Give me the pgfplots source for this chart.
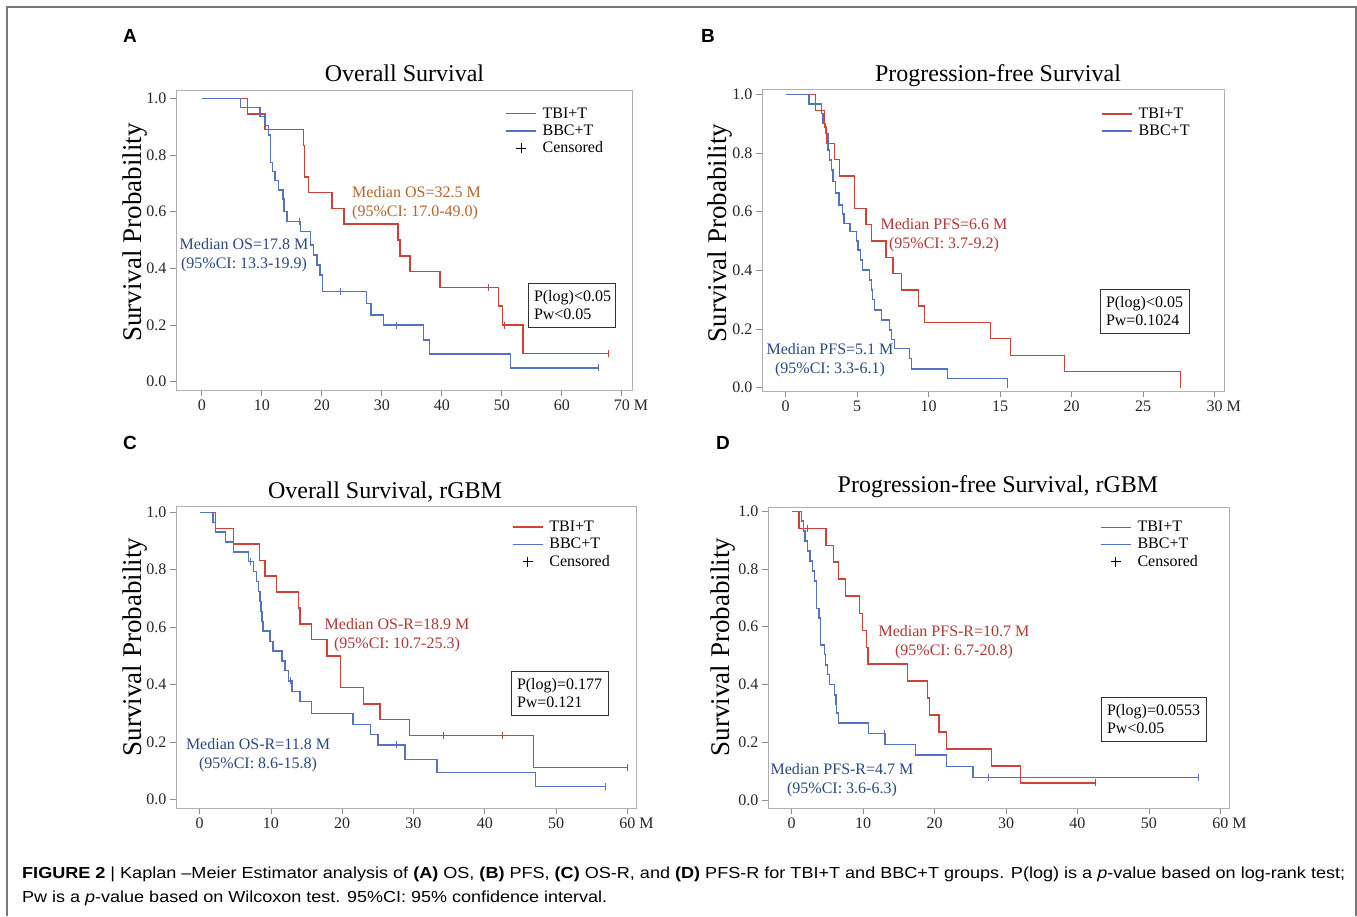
\documentclass[border=0pt]{standalone}
\usepackage{pgfplots}
\pgfplotsset{compat=1.18}
\usepackage{fontspec}
\setmainfont{Liberation Serif}
\newfontfamily\sansf{Liberation Sans}
\usepackage{graphicx}

\definecolor{tbired}{RGB}{208,66,56}
\definecolor{bbcblue}{RGB}{84,114,192}
\definecolor{annred}{RGB}{178,55,55}
\definecolor{annorange}{RGB}{184,100,42}
\definecolor{annblue}{RGB}{42,72,132}
\definecolor{axgray}{RGB}{175,175,175}
\definecolor{tickgray}{RGB}{140,140,140}
\definecolor{framegray}{RGB}{120,120,120}

\pgfplotsset{
  km/.style={
    scale only axis,
    axis line style={draw=axgray, line width=0.9pt},
    tick style={draw=tickgray, line width=0.7pt},
    tick align=outside,
    major tick length=6pt,
    xtick pos=bottom, ytick pos=left,
    ytick={0,0.2,0.4,0.6,0.8,1},
    yticklabels={0.0,0.2,0.4,0.6,0.8,1.0},
    ticklabel style={font=\fontsize{16}{16}\selectfont, text=black!85},
    legend cell align=left,
    legend style={draw=none, fill=none, font=\fontsize{16}{17}\selectfont, inner sep=0pt, row sep=1pt, column sep=4pt},
  },
  kmred/.style={const plot, tbired, line width=1.4pt, forget plot},
  kmblue/.style={const plot, bbcblue, line width=1.4pt, forget plot},
  cenred/.style={only marks, mark=|, mark size=3.5pt, tbired, mark options={line width=0.9pt}, forget plot},
  cenblue/.style={only marks, mark=|, mark size=3.5pt, bbcblue, mark options={line width=0.9pt}, forget plot},
}
\newcommand{\legA}{%
  \addlegendimage{legend image code/.code={\draw[tbired,line width=1.4pt] (0pt,0pt) -- (30pt,0pt);}}
  \addlegendentry{TBI+T}
  \addlegendimage{legend image code/.code={\draw[bbcblue,line width=1.4pt] (0pt,0pt) -- (30pt,0pt);}}
  \addlegendentry{BBC+T}}
\newcommand{\legC}{%
  \addlegendimage{legend image code/.code={\draw[black,line width=0.7pt] (15pt,-5pt) -- (15pt,5pt) (10pt,0pt) -- (20pt,0pt);}}
  \addlegendentry{Censored}}

\tikzset{
  ann/.style={font=\fontsize{16}{19}\selectfont, align=center, inner sep=0pt},
  pbox/.style={draw=black!80, line width=0.8pt, font=\fontsize{16}{18}\selectfont, align=left, inner xsep=6pt, inner ysep=0pt, minimum height=44pt, anchor=center},
  ttl/.style={font=\fontsize{24}{24}\selectfont, inner sep=0pt, anchor=base},
  ylab/.style={font=\fontsize{27}{27}\selectfont, rotate=90, inner sep=0pt, anchor=base},
  plet/.style={font=\sansf\bfseries\fontsize{19}{19}\selectfont, inner sep=0pt},
}

\begin{document}
\begin{tikzpicture}
\path[use as bounding box] (0,0) rectangle (1357pt,-916pt);
\fill[white] (0,0) rectangle (1357pt,-916pt);
\draw[framegray, line width=1.2pt] (7pt,-916pt) -- (7pt,-7pt) -- (1356pt,-7pt) -- (1356pt,-916pt);

% panel letters
\node[plet] at (130pt,-36pt) {A};
\node[plet] at (708pt,-36pt) {B};
\node[plet] at (130pt,-443pt) {C};
\node[plet] at (723pt,-443pt) {D};

% titles (baselines)
\node[ttl] at (404.5pt,-81pt) {Overall Survival};
\node[ttl] at (998pt,-81pt) {Progression-free Survival};
\node[ttl] at (385pt,-498pt) {Overall Survival, rGBM};
\node[ttl] at (998pt,-492pt) {Progression-free Survival, rGBM};

% y labels (baselines, rotated)
\node[ylab] at (141pt,-232.5pt) {Survival Probability};
\node[ylab] at (726pt,-233pt) {Survival Probability};
\node[ylab] at (141pt,-647pt) {Survival Probability};
\node[ylab] at (729pt,-647pt) {Survival Probability};

% ---------------- Panel A
\begin{axis}[km, at={(176pt,-390pt)}, anchor=south west, width=456pt, height=300pt,
  xmin=-4.3, xmax=71.7, ymin=-0.029, ymax=1.029,
  xtick={0,10,20,30,40,50,60,70}, xticklabels={0,10,20,30,40,50,60,{70\rlap{ M}}},
  legend style={at={(0.7215,0.948)}, anchor=north west}]
\addplot[kmred] coordinates {(0,1)(7.6,0.944)(10.5,0.889)(16.9,0.833)(17.1,0.722)(17.8,0.667)(21.7,0.611)(23.7,0.556)(32.7,0.5)(33.0,0.444)(34.7,0.389)(39.7,0.333)(49.4,0.267)(50.1,0.2)(53.5,0.1)(67.8,0.1)};
\addplot[cenred] coordinates {(47.8,0.333)(50.4,0.2)(67.8,0.1)};
\addplot[kmblue] coordinates {(0,1)(6.4,0.968)(9.7,0.935)(10.5,0.903)(11.1,0.871)(11.4,0.774)(11.8,0.742)(12.2,0.71)(12.8,0.677)(13.5,0.645)(13.7,0.6)(14.2,0.565)(16.4,0.53)(18.1,0.482)(18.6,0.447)(19.2,0.412)(19.7,0.377)(20.1,0.318)(27.4,0.276)(28.2,0.235)(30.3,0.2)(36.9,0.147)(37.9,0.098)(51.4,0.049)(66.1,0.049)};
\addplot[cenblue] coordinates {(16.3,0.565)(23.1,0.318)(32.4,0.2)(66.1,0.049)};
\legA
\legC
\end{axis}

% ---------------- Panel B
\begin{axis}[km, at={(762pt,-391pt)}, anchor=south west, width=462pt, height=302pt,
  xmin=-1.66, xmax=30.65, ymin=-0.011, ymax=1.018,
  xtick={0,5,10,15,20,25,30}, xticklabels={0,5,10,15,20,25,{30\rlap{ M}}},
  legend style={at={(0.734,0.945)}, anchor=north west}]
\addplot[kmred] coordinates {(0,1)(2.1,0.944)(2.7,0.889)(2.85,0.833)(3.4,0.778)(3.75,0.722)(4.8,0.611)(5.6,0.556)(6.0,0.5)(7.0,0.444)(7.5,0.389)(8.1,0.333)(9.3,0.278)(9.7,0.222)(14.3,0.167)(15.7,0.111)(19.5,0.056)(27.6,0)};
\addplot[kmblue] coordinates {(0,1)(1.63,0.967)(2.49,0.935)(2.61,0.9)(2.8,0.867)(2.96,0.81)(3.08,0.776)(3.19,0.742)(3.31,0.702)(3.5,0.663)(3.73,0.623)(3.96,0.592)(4.08,0.56)(4.48,0.532)(4.94,0.5)(5.06,0.469)(5.22,0.435)(5.36,0.401)(5.87,0.367)(5.99,0.333)(6.06,0.301)(6.22,0.265)(6.69,0.231)(7.27,0.197)(7.39,0.165)(7.62,0.134)(8.67,0.1)(8.79,0.064)(11.3,0.032)(15.5,0)};
\legA
\end{axis}

% ---------------- Panel C
\begin{axis}[km, at={(176pt,-808pt)}, anchor=south west, width=460pt, height=302pt,
  xmin=-3.3, xmax=61.2, ymin=-0.03, ymax=1.022,
  xtick={0,10,20,30,40,50,60}, xticklabels={0,10,20,30,40,50,{60\rlap{ M}}},
  legend style={at={(0.73,0.957)}, anchor=north west}]
\addplot[kmred] coordinates {(0,1)(2.2,0.944)(4.8,0.889)(8.4,0.833)(9.2,0.778)(10.75,0.722)(13.9,0.667)(14.1,0.611)(15.7,0.556)(17.9,0.5)(19.8,0.389)(23.0,0.333)(25.3,0.278)(29.4,0.222)(46.8,0.111)(60.0,0.111)};
\addplot[cenred] coordinates {(34.2,0.222)(42.5,0.222)(60.0,0.111)};
\addplot[kmblue] coordinates {(0,1)(1.9,0.965)(2.2,0.931)(3.6,0.897)(4.8,0.862)(6.9,0.828)(7.6,0.793)(7.95,0.759)(8.3,0.724)(8.45,0.69)(8.6,0.655)(8.75,0.62)(8.9,0.586)(9.9,0.551)(10.3,0.517)(11.55,0.482)(12.0,0.448)(12.5,0.413)(12.96,0.376)(14.1,0.341)(15.7,0.3)(21.5,0.261)(24.0,0.226)(25.0,0.19)(28.8,0.139)(33.3,0.094)(47.1,0.044)(56.9,0.044)};
\addplot[cenblue] coordinates {(7.1,0.828)(12.8,0.413)(27.6,0.19)(56.9,0.044)};
\legA
\legC
\end{axis}

% ---------------- Panel D
\begin{axis}[km, at={(768pt,-808pt)}, anchor=south west, width=461pt, height=301pt,
  xmin=-3.3, xmax=61.2, ymin=-0.028, ymax=1.015,
  xtick={0,10,20,30,40,50,60}, xticklabels={0,10,20,30,40,50,{60\rlap{ M}}},
  legend style={at={(0.72,0.96)}, anchor=north west}]
\addplot[kmred] coordinates {(0,1)(1.05,0.941)(4.8,0.882)(5.9,0.824)(6.6,0.765)(7.5,0.706)(9.5,0.647)(9.9,0.588)(10.5,0.529)(10.7,0.471)(16.2,0.412)(19.0,0.353)(19.3,0.294)(20.6,0.235)(21.7,0.176)(28.0,0.118)(32.0,0.059)(42.5,0.059)};
\addplot[cenred] coordinates {(2.2,0.941)(42.5,0.059)};
\addplot[kmblue] coordinates {(0,1)(1.4,0.966)(1.65,0.932)(1.86,0.897)(2.24,0.862)(2.56,0.828)(2.9,0.793)(3.17,0.759)(3.5,0.664)(3.82,0.63)(4.06,0.537)(4.57,0.503)(4.76,0.468)(4.99,0.434)(5.27,0.401)(5.97,0.364)(6.2,0.33)(6.3,0.301)(6.53,0.266)(10.8,0.23)(13.05,0.193)(17.3,0.156)(21.7,0.115)(25.4,0.077)(56.9,0.077)};
\addplot[cenblue] coordinates {(13.0,0.23)(27.6,0.077)(56.9,0.077)};
\legA
\legC
\end{axis}

% annotations
\node[ann, text=annorange, align=left, anchor=west] at (352pt,-203.5pt) {Median OS=32.5 M\\(95\%CI: 17.0-49.0)};
\node[ann, text=annblue] at (244pt,-255pt) {Median OS=17.8 M\\(95\%CI: 13.3-19.9)};
\node[ann, text=annred] at (944pt,-235.5pt) {Median PFS=6.6 M\\(95\%CI: 3.7-9.2)};
\node[ann, text=annblue] at (830pt,-360pt) {Median PFS=5.1 M\\(95\%CI: 3.3-6.1)};
\node[ann, text=annred] at (397pt,-635.5pt) {Median OS-R=18.9 M\\(95\%CI: 10.7-25.3)};
\node[ann, text=annblue] at (258pt,-755.5pt) {Median OS-R=11.8 M\\(95\%CI: 8.6-15.8)};
\node[ann, text=annred] at (954pt,-642.5pt) {Median PFS-R=10.7 M\\(95\%CI: 6.7-20.8)};
\node[ann, text=annblue] at (842pt,-780.5pt) {Median PFS-R=4.7 M\\(95\%CI: 3.6-6.3)};

% p-value boxes
\node[pbox, minimum width=87pt, text width=75pt] at (571.5pt,-305pt) {P(log)<0.05\\Pw<0.05};
\node[pbox, minimum width=89pt, text width=77pt] at (1144.5pt,-311pt) {P(log)<0.05\\Pw=0.1024};
\node[pbox, minimum width=97pt, text width=85pt] at (559.5pt,-693pt) {P(log)=0.177\\Pw=0.121};
\node[pbox, minimum width=105pt, text width=93pt] at (1153.5pt,-719.5pt) {P(log)=0.0553\\Pw<0.05};

% caption
\node[anchor=west, inner sep=0pt] at (22pt,-874pt) {\resizebox{1323pt}{\height}{\sansf\fontsize{16}{16}\selectfont\textbf{FIGURE 2} | Kaplan –Meier Estimator analysis of \textbf{(A)} OS, \textbf{(B)} PFS, \textbf{(C)} OS-R, and \textbf{(D)} PFS-R for TBI+T and BBC+T groups. P(log) is a \textit{p}-value based on log-rank test;}};
\node[anchor=west, inner sep=0pt] at (22pt,-898pt) {\resizebox{585pt}{\height}{\sansf\fontsize{16}{16}\selectfont Pw is a \textit{p}-value based on Wilcoxon test. 95\%CI: 95\% confidence interval.}};
\end{tikzpicture}
\end{document}
